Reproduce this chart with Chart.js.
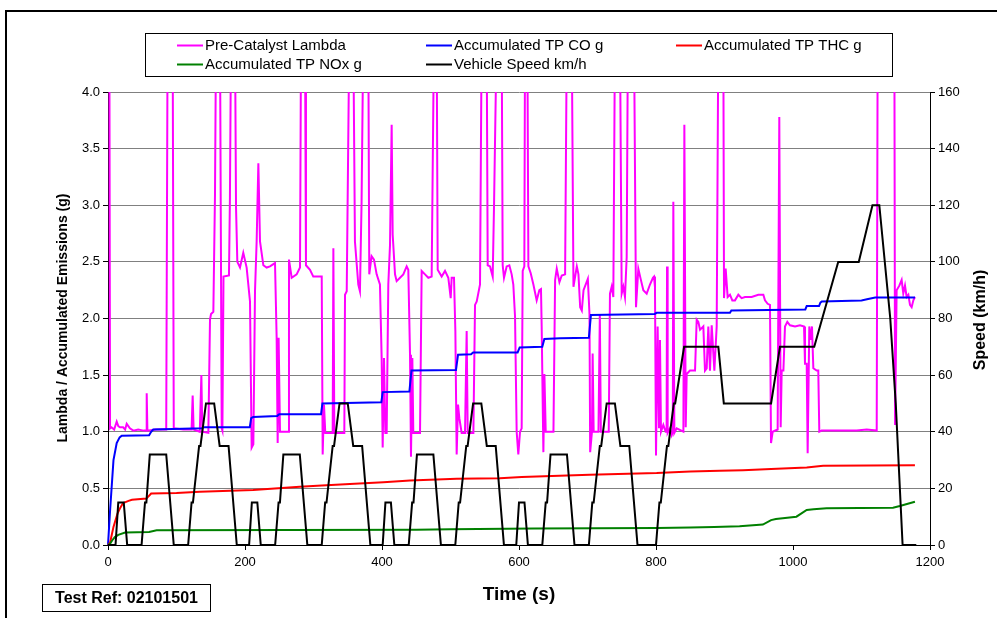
<!DOCTYPE html>
<html><head><meta charset="utf-8">
<script src="https://cdn.jsdelivr.net/npm/chart.js@4/dist/chart.umd.min.js"></script>
<style>html,body{margin:0;padding:0;background:#fff;}#wrap{width:997px;height:618px;}</style>
</head><body><div id="wrap"><canvas id="c" width="997" height="618"></canvas></div>
<script>
// ---- data ----
const xTicks = [0, 200, 400, 600, 800, 1000, 1200];
const leftTicks = [0, 0.5, 1, 1.5, 2, 2.5, 3, 3.5, 4];
const rightTicks = [0, 20, 40, 60, 80, 100, 120, 140, 160];

const lambdaTime = [0,2,3,5,9,12.7,15,17.5,22,25,27.3,32,37,44,52,55.5,56.5,57.5,70,85,87,94.4,96,110,122,123.6,125,134,136.3,137.7,146.5,148.9,150.4,153.8,156.2,157.7,
163.5,166,167,168.6,176.6,178,179.6,185.4,186.9,188.8,192.7,197.5,202.4,207.3,209.7,212.2,214.6,217,219.5,221.9,226.8,231.6,236.5,241.4,243.8,246.2,247.7,249.1,251.1,263.2,264.2,268.1,275.4,280.3,281.8,287.6,289,294.9,299.7,309.5,312,313.4,315.3,317.2,328,329,330.4,345,346,348.5,352.3,358.1,360.5,365.4,367.8,370.2,372.7,380,381.4,384.8,388.3,392.2,397,399.5,401,402.9,404.9,406.8,409.2,411.7,414.1,415.6,419,421.4,426.3,431.1,436,438.4,440.9,442.3,444.3,445.7,455.5,457.9,462.8,467.6,472.5,475.9,479.8,481.3,487.1,492,496.8,500.3,501.7,505.1,507.1,509,511,512.9,516.3,521.2,523.6,525.1,533.4,535.8,538.3,543.1,545.5,552.8,554.3,557.7,561.6,563.5,567.4,574.7,576.2,578.1,582,585.9,589.3,591.7,594.2,596.6,599,601.5,603.9,605.4,607.8,608.8,612.2,613.7,617.1,621,625.8,629.7,632.1,633.1,635.6,637.1,639,643,650.3,652.7,655.1,659,662.4,667.3,669.8,677,679.5,684.4,686.8,689.3,691.7,694.2,698,700.5,702.9,703.9,706.5,707.5,709,716,718,719.5,731,732.8,735.3,737.7,740.1,747.4,749.9,752.3,754.7,757.2,759,767.9,770.8,774.2,777.6,781.5,786.4,791.2,795.5,797.1,798.5,800,802.4,804.4,805.8,807.3,810.7,814.1,815.5,816.1,817,820.4,822.9,824.5,825.3,826.8,830.2,840,841.4,843.4,844.8,849.6,857,859.4,861.8,864.3,869.1,871.5,874,876.4,878.8,881.3,885.2,888.6,891,898.3,899.3,901.7,904.6,908,911.4,915.3,920.2,925,929.9,939.6,949.4,956.7,959.1,963,966.4,967.9,970.3,977.6,980,982,983.5,986,988.3,991.7,995.6,1003,1010.2,1016.1,1017.5,1020,1021.4,1023.8,1025.8,1027.7,1029.7,1034.5,1036.9,1038.4,1041.8,1068.6,1093,1107.6,1122.2,1123.6,1148,1149,1151.3,1155.2,1158.6,1161,1163.5,1165.9,1168.4,1170.8,1173.2,1175.7,1178.1];
const lambdaValue = [4.5,4.5,1.03,1.04,1.02,1.09,1.05,1.04,1.04,1.02,1.07,1.03,1.01,1.02,1.01,1.01,1.34,1.01,1.02,1.02,4.5,4.5,1.03,1.02,1.02,1.32,1.02,1.0,1.5,1.0,0.99,1.99,2.04,2.06,3.1,4.5,
4.5,1.03,1.01,2.37,2.38,3.07,4.5,4.5,2.98,2.50,2.45,2.58,2.45,2.15,0.86,0.89,2.24,2.68,3.37,2.68,2.47,2.45,2.46,2.48,2.49,1.83,0.9,1.83,1.0,1.0,2.52,2.36,2.39,2.45,4.5,4.5,2.47,2.43,2.37,2.37,2.37,0.80,1.24,0.99,0.99,2.62,0.99,0.99,2.21,2.24,4.5,4.5,2.68,2.30,2.24,3.03,4.5,4.5,2.39,2.55,2.52,2.39,2.30,1.65,0.86,1.65,0.99,0.99,2.30,2.65,3.71,2.74,2.39,2.33,2.36,2.39,2.46,2.43,1.68,0.78,1.65,0.99,0.99,2.42,2.39,2.36,2.37,4.5,4.5,2.43,2.37,2.42,2.36,2.18,2.36,2.36,1.89,0.80,1.24,1.12,0.99,0.99,1.89,0.99,0.99,2.12,2.15,2.30,4.5,4.5,2.47,2.46,2.37,2.98,4.5,4.5,2.47,2.36,2.46,2.47,2.39,2.30,2.02,1.0,0.80,1.0,1.03,2.42,2.46,4.5,4.5,2.46,2.40,2.30,2.16,2.25,2.26,1.93,0.82,1.51,1.0,1.0,1.0,2.34,2.44,2.32,2.38,2.39,4.5,4.5,2.28,2.46,2.39,2.10,2.07,2.25,2.31,2.35,2.04,0.82,1.0,1.69,1.0,1.0,2.04,1.0,1.0,2.22,2.28,2.19,4.5,4.5,2.22,2.28,2.19,2.54,4.5,4.5,2.10,2.44,2.35,2.25,2.22,2.30,2.36,2.37,2.28,0.79,1.93,1.04,1.81,1.0,1.06,1.0,1.0,2.46,0.99,1.03,0.97,1.0,3.03,0.99,1.03,1.0,3.71,1.04,1.51,1.54,1.54,1.99,1.97,1.90,1.93,1.54,1.56,1.93,1.54,1.94,1.54,1.93,4.5,4.5,2.18,2.44,2.19,2.21,2.16,2.16,2.21,2.18,2.19,2.19,2.21,2.21,2.16,2.13,2.12,0.90,1.0,1.02,3.78,1.04,1.54,1.54,1.93,1.97,1.94,1.93,1.94,1.93,1.60,1.60,0.81,1.93,1.81,1.93,1.56,1.54,1.54,1.0,1.01,1.01,1.01,1.02,1.01,4.5,4.5,1.06,2.25,2.29,2.34,2.22,2.29,2.19,2.21,2.12,2.10,2.16,2.19];

const coTime  = [0,3,8,12.7,17,20,60,63,66,137,140,207,209,212,247,250,311,313,399,401,440,443,508,511,530,533,598,601,634,637,660,702,705,798,801,908,910,1018,1020,1038,1040,1042,1100,1108,1120,1178];
const coValue = [0,0.3,0.75,0.9,0.95,0.965,0.97,1.0,1.02,1.03,1.04,1.04,1.12,1.13,1.14,1.155,1.155,1.25,1.26,1.35,1.355,1.54,1.545,1.68,1.685,1.70,1.70,1.745,1.75,1.82,1.825,1.83,2.03,2.04,2.05,2.05,2.07,2.08,2.11,2.11,2.14,2.15,2.16,2.17,2.185,2.185];

const thcTime  = [0,3,8,14,18,22,30,35,56,63,100,134,212,280,312,360,402,441,509,572,604,703,801,850,893,927,968,1020,1044,1178];
const thcValue = [0,0.02,0.16,0.28,0.33,0.37,0.39,0.40,0.41,0.455,0.46,0.47,0.486,0.515,0.525,0.54,0.555,0.57,0.585,0.59,0.60,0.62,0.635,0.65,0.655,0.66,0.67,0.685,0.70,0.705];

const noxTime  = [0,3,6,10,15,25,60,71,450,500,622,801,850,885,922,956,968,975,1005,1020,1030,1049,1146,1156,1178];
const noxValue = [0,0.01,0.04,0.07,0.09,0.11,0.115,0.13,0.135,0.14,0.145,0.15,0.155,0.16,0.165,0.18,0.22,0.23,0.25,0.31,0.315,0.324,0.33,0.345,0.382];

const speedTime = [0,11,15,23,28,49,54,56,61,85,96,117,122,124,133,135,143,155,163,176,188,
206,210,218,223,244,249,251,256,280,291,312,317,319,328,330,338,350,358,371,383,
401,405,413,418,439,444,446,451,475,486,507,512,514,523,525,533,545,553,566,578,
596,600,608,613,634,639,641,646,670,681,702,707,709,718,720,728,740,748,761,773,
800,805,807,816,818,826,828,841,891,899,968,981,1031,1066,1096,1116,1126,1142,1150,1160,1180];
const speedValue = [0,0,15,15,0,0,15,15,32,32,0,0,15,15,35,35,50,50,35,35,0,
0,15,15,0,0,15,15,32,32,0,0,15,15,35,35,50,50,35,35,0,
0,15,15,0,0,15,15,32,32,0,0,15,15,35,35,50,50,35,35,0,
0,15,15,0,0,15,15,32,32,0,0,15,15,35,35,50,50,35,35,0,
0,15,15,35,35,50,50,70,70,50,50,70,70,100,100,120,120,80,50,0,0];

const seriesNames = ['Pre-Catalyst Lambda','Accumulated TP CO g','Accumulated TP THC g','Accumulated TP NOx g','Vehicle Speed km/h'];
const seriesColors = ['#FF00FF','#0000FF','#FF0000','#008000','#000000'];

function pts(t, v) { return t.map((x, i) => ({x: x, y: v[i]})); }

const FONT = '"Liberation Sans", Arial, sans-serif';

const decor = {
  id: 'decor',
  afterDraw(chart) {
    const ctx = chart.ctx;
    ctx.save();
    // outer frame
    ctx.strokeStyle = '#000'; ctx.lineWidth = 2;
    ctx.strokeRect(6, 11, 1200, 800);
    // legend box
    ctx.lineWidth = 1;
    ctx.strokeRect(145.5, 33.5, 747, 43);
    const items = [
      {i:0, x:177, y:45.5}, {i:1, x:426, y:45.5}, {i:2, x:676, y:45.5},
      {i:3, x:177, y:64.5}, {i:4, x:426, y:64.5}
    ];
    ctx.font = '15px ' + FONT; ctx.textBaseline = 'middle'; ctx.textAlign = 'left';
    items.forEach(it => {
      const ds = chart.data.datasets[it.i];
      ctx.strokeStyle = ds.borderColor; ctx.lineWidth = 2;
      ctx.beginPath(); ctx.moveTo(it.x, it.y); ctx.lineTo(it.x + 26, it.y); ctx.stroke();
      ctx.fillStyle = '#000';
      ctx.fillText(ds.label, it.x + 28, it.y);
    });
    // axis titles
    ctx.fillStyle = '#000';
    ctx.font = 'bold 14px ' + FONT; ctx.textAlign = 'center';
    ctx.save(); ctx.translate(63, 318); ctx.rotate(-Math.PI/2);
    ctx.fillText('Lambda / Accumulated Emissions (g)', 0, 0); ctx.restore();
    ctx.save(); ctx.font = 'bold 16px ' + FONT; ctx.translate(981, 320); ctx.rotate(-Math.PI/2);
    ctx.fillText('Speed (km/h)', 0, 0); ctx.restore();
    ctx.font = 'bold 19px ' + FONT;
    ctx.fillText('Time (s)', 519, 595);
    // test ref box
    ctx.lineWidth = 1; ctx.strokeStyle = '#000';
    ctx.strokeRect(42.5, 584.5, 168, 27);
    ctx.font = 'bold 16px ' + FONT;
    ctx.fillText('Test Ref: 02101501', 126.5, 598.5);
    ctx.restore();
  }
};

const mk = (i, t, v, axis, order) => ({
  label: seriesNames[i], data: pts(t, v), yAxisID: axis,
  borderColor: seriesColors[i], backgroundColor: seriesColors[i],
  borderWidth: 2, pointRadius: 0, tension: 0, fill: false, order: order,
  clip: {left: 2, top: 0, right: 2, bottom: 2}
});

const tickFont = { family: FONT, size: 13 };

new Chart(document.getElementById('c'), {
  type: 'line',
  data: { datasets: [
    mk(0, lambdaTime, lambdaValue, 'y', 4),
    mk(1, coTime, coValue, 'y', 3),
    mk(2, thcTime, thcValue, 'y', 2),
    mk(3, noxTime, noxValue, 'y', 1),
    mk(4, speedTime, speedValue, 'y2', 0)
  ]},
  options: {
    responsive: false, animation: false, devicePixelRatio: 1,
    layout: { padding: { top: 92, left: 0, right: 0, bottom: 0 } },
    plugins: { legend: { display: false }, tooltip: { enabled: false } },
    scales: {
      x: {
        type: 'linear', min: 0, max: 1200,
        afterBuildTicks: s => { s.ticks = xTicks.map(v => ({value: v})); },
        afterFit: s => { s.height = 73; },
        ticks: { color: '#000', font: tickFont, padding: 5, maxRotation: 0, callback: v => String(v) },
        grid: { drawOnChartArea: false, drawTicks: true, tickLength: 5, tickColor: '#000' },
        border: { color: '#000', width: 1 }
      },
      y: {
        position: 'left', min: 0, max: 4,
        afterBuildTicks: s => { s.ticks = leftTicks.map(v => ({value: v})); },
        afterFit: s => { s.width = 108; },
        ticks: { color: '#000', font: tickFont, padding: 3, callback: v => v.toFixed(1) },
        grid: { color: '#808080', lineWidth: 1, tickLength: 5, tickColor: '#000' },
        border: { color: '#000', width: 1 }
      },
      y2: {
        position: 'right', min: 0, max: 160,
        afterBuildTicks: s => { s.ticks = rightTicks.map(v => ({value: v})); },
        afterFit: s => { s.width = 67; },
        ticks: { color: '#000', font: tickFont, padding: 3, callback: v => String(v) },
        grid: { drawOnChartArea: false, tickLength: 5, tickColor: '#000' },
        border: { color: '#000', width: 1 }
      }
    }
  },
  plugins: [decor]
});
</script></body></html>
